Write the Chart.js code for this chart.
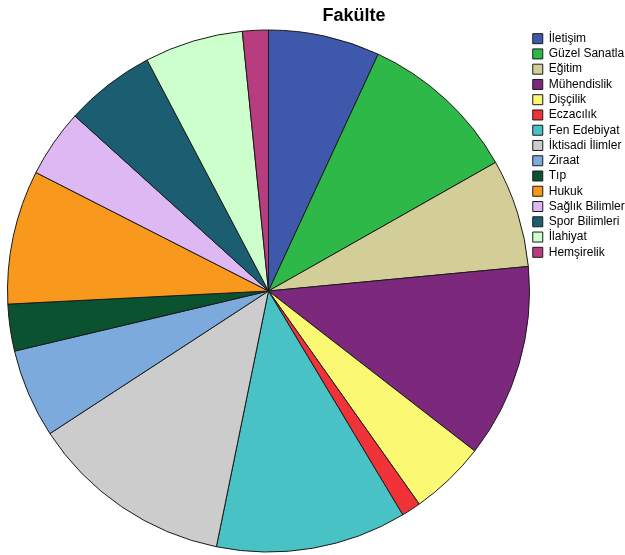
<!DOCTYPE html>
<html>
<head>
<meta charset="utf-8">
<script src="https://cdn.jsdelivr.net/npm/chart.js@4"></script>
<style>
  html, body { margin: 0; padding: 0; background: #fff; }
  #wrap { width: 625px; height: 555px; }
</style>
</head>
<body>
<div id="wrap"><canvas id="pasta"></canvas></div>
<script>
// Fakülte dağılımı (yüzde)
var fakulteler = ['İletişim', 'Güzel Sanatlar', 'Eğitim', 'Mühendislik', 'Dişçilik', 'Eczacılık',
  'Fen Edebiyat', 'İktisadi İlimler', 'Ziraat', 'Tıp', 'Hukuk', 'Sağlık Bilimleri',
  'Spor Bilimleri', 'İlahiyat', 'Hemşirelik'];
var yuzdeler = [6.9, 9.9, 6.7, 12.0, 4.7, 1.2, 11.8, 12.6, 5.5, 2.9, 8.3, 4.2, 5.6, 6.1, 1.6];
var renkler = ['#3E58AC', '#2EB848', '#D3CE97', '#7C287D', '#FBF873', '#EF3338', '#48C2C5',
  '#CCCCCC', '#7CAADC', '#0B5330', '#F8991D', '#DDB8F2', '#1B5E72', '#CCFFCC', '#B83D7E'];

// ajusta posição do título, legenda e área da pizza
var posicoes = {
  id: 'posicoes',
  afterLayout: function(chart){
    var t = chart.titleBlock;
    t.left = 254; t.right = 454; t.top = 5.2; t.bottom = 26.8;
    var l = chart.legend;
    var w = l.right - l.left, h = l.bottom - l.top;
    l.left = 529.5; l.right = 529.5 + w; l.top = 29.4; l.bottom = 29.4 + h;
    chart.chartArea = { left: 7, top: 29.5, right: 530, bottom: 552.5, width: 523, height: 523 };
  }
};

new Chart(document.getElementById('pasta'), {
  type: 'pie',
  data: {
    labels: fakulteler,
    datasets: [{
      data: yuzdeler,
      backgroundColor: renkler,
      borderColor: '#1a1a1a',
      borderWidth: 1
    }]
  },
  options: {
    responsive: true,
    maintainAspectRatio: false,
    animation: false,
    plugins: {
      title: {
        display: true,
        text: 'Fakülte',
        color: '#000',
        padding: 0,
        font: { family: 'Liberation Sans, Arial, sans-serif', size: 18, weight: 'bold' }
      },
      legend: {
        position: 'right',
        align: 'start',
        labels: {
          boxWidth: 10,
          boxHeight: 10,
          padding: 3.26,
          color: '#000',
          font: { family: 'Liberation Sans, Arial, sans-serif', size: 12 }
        }
      },
      tooltip: { enabled: false }
    }
  },
  plugins: [posicoes]
});
</script>
</body>
</html>
